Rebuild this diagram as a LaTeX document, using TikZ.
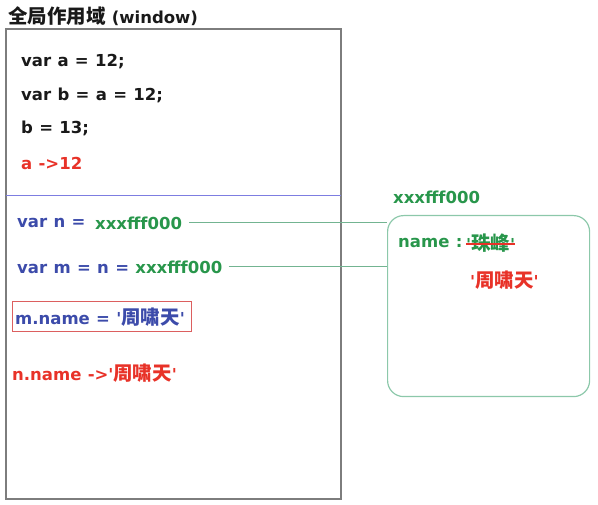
\documentclass[tikz,border=0pt]{standalone}
\usepackage{fontspec}
\setmainfont{DejaVu Sans}[WordSpace=1.1]
\newfontfamily\cjk{Noto Sans CJK SC}[Scale=1.18]
\newcommand\sq{\textquotesingle}
\definecolor{tblack}{RGB}{25,25,25}
\definecolor{tred}{RGB}{232,50,40}
\definecolor{tblue}{RGB}{60,75,170}
\definecolor{tgreen}{RGB}{40,150,75}
\definecolor{lgreen}{RGB}{115,180,145}
\definecolor{bgreen}{RGB}{140,200,170}
\definecolor{bgray}{RGB}{125,125,125}
\definecolor{lblue}{RGB}{125,125,225}
\definecolor{rbox}{RGB}{220,95,95}
\begin{document}
\begin{tikzpicture}[x=1pt,y=-1pt,
  txt/.style={anchor=west,inner sep=0pt,font=\bfseries\fontsize{16.5}{18}\selectfont},
  blk/.style={txt,text=tblack},
  red/.style={txt,text=tred},
  blu/.style={txt,text=tblue},
  grn/.style={txt,text=tgreen},
  link/.style={draw=lgreen,line width=1pt}]
\useasboundingbox (0,0) rectangle (598,505);
% left scope box
\node[blk] (title) at (8,16) {{\cjk 全局作用域} (window)};
\draw[bgray,line width=1.5pt] (6,29) rectangle (341,499);
\coordinate (scopeL) at (6,195);
\coordinate (scopeR) at (341,195);
\draw[lblue,line width=0.8pt] (scopeL) -- (scopeR);
\node[blk] (l1) at (21,62) {var a = 12;};
\node[blk] (l2) at (21,95) {var b = a = 12;};
\node[blk] (l3) at (21,128) {b = 13;};
\node[red] (l4) at (21,163) {a ->12};
\node[blu] (n1) at (17,223) {var n =};
\node[grn] (n1v) at (95,223) {xxxfff000};
\node[blu] (m1) at (17,267) {var m = n = \textcolor{tgreen}{xxxfff000}};
\node[blu] (mn) at (15,317) {m.name = \sq{\cjk 周啸天}\sq};
\draw[rbox,line width=1pt] (12,302) rectangle (191,332);
\node[red] (nn) at (12,373) {n.name ->\sq{\cjk 周啸天}\sq};
% heap object
\node[grn] (addr) at (393,197) {xxxfff000};
\node[draw=bgreen,line width=1.2pt,rounded corners=16pt,minimum width=202pt,minimum height=181pt,anchor=north west,inner sep=0pt] (obj) at (387,215) {};
\node[grn] (key) at (398,243) {name :};
\node[grn] (old) at (466,243) {\sq{\cjk 珠峰}\sq};
\draw[tred,line width=1.2pt] ([yshift=-1pt]old.west) -- ([yshift=-1pt]old.east);
\node[red] (new) at (470,280) {\sq{\cjk 周啸天}\sq};
% links
\draw[link] ([xshift=7pt]n1v.east) -- (n1v.east -| obj.west);
\draw[link] ([xshift=6pt]m1.east) -- (m1.east -| obj.west);
\end{tikzpicture}
\end{document}
